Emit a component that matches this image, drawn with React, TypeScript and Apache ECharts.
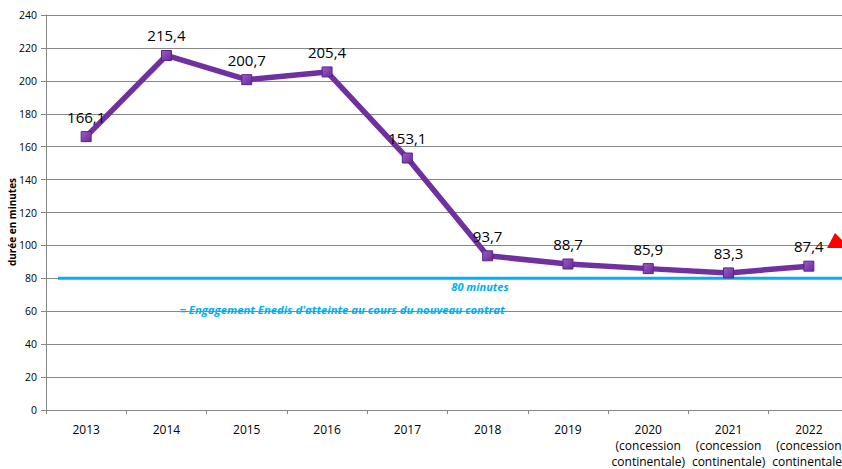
import React, { useEffect, useRef } from "react";
import * as echarts from "echarts";

const categories = [
  "2013",
  "2014",
  "2015",
  "2016",
  "2017",
  "2018",
  "2019",
  "2020\n(concession\ncontinentale)",
  "2021\n(concession\ncontinentale)",
  "2022\n(concession\ncontinentale)",
];
const durations = [166.1, 215.4, 200.7, 205.4, 153.1, 93.7, 88.7, 85.9, 83.3, 87.4];
const targetValue = 80;
const targetLabel = "80 minutes";
const targetNote = "= Engagement Enedis d'atteinte au cours du nouveau contrat";
const yAxisName = "durée en minutes";

const FONT = "'Open Sans', 'Liberation Sans', sans-serif";

export default function App() {
  const ref = useRef<HTMLDivElement>(null);
  useEffect(() => {
    if (!ref.current) return;
    const chart = echarts.init(ref.current, null, { renderer: "svg" });
    chart.setOption({
      animation: false,
      textStyle: { fontFamily: FONT },
      grid: {
        left: 46,
        right: -7,
        top: 15,
        bottom: 59,
        containLabel: false,
        outerBoundsMode: "none",
      },
      xAxis: {
        type: "category",
        data: categories,
        boundaryGap: true,
        axisLine: { show: true, lineStyle: { color: "#868686" } },
        axisTick: { show: true, length: 4, lineStyle: { color: "#868686" } },
        axisLabel: {
          color: "#000",
          fontSize: 12,
          lineHeight: 16,
          margin: 11,
          interval: 0,
          fontFamily: FONT,
        },
      },
      yAxis: {
        type: "value",
        min: 0,
        max: 240,
        interval: 20,
        axisLine: { show: true, lineStyle: { color: "#868686" } },
        axisTick: { show: true, length: 5, lineStyle: { color: "#868686" } },
        axisLabel: { color: "#000", fontSize: 10.5, margin: 9, fontFamily: FONT },
        splitLine: { show: true, lineStyle: { color: "#868686", width: 1 } },
      },
      series: [
        {
          type: "line",
          data: durations,
          lineStyle: { color: "#7030A0", width: 5.5 },
          symbol: "rect",
          symbolSize: 10,
          itemStyle: {
            color: new echarts.graphic.LinearGradient(0, 0, 1, 1, [
              { offset: 0, color: "#9a5cc8" },
              { offset: 1, color: "#6a2a98" },
            ]),
            borderColor: "#5a2386",
            borderWidth: 1,
          },
          label: {
            show: true,
            position: "top",
            distance: 7,
            color: "#000",
            fontSize: 15,
            fontFamily: FONT,
            formatter: (p: any) => String(p.value.toFixed(1)).replace(".", ","),
          },
          z: 5,
        },
      ],
    });
    const yPix = chart.convertToPixel({ yAxisIndex: 0 }, targetValue) as number;
    chart.setOption({
      graphic: [
        {
          type: "text",
          x: 12,
          y: 222,
          rotation: Math.PI / 2,
          style: {
            text: yAxisName,
            fill: "#000",
            font: `bold 10px ${FONT}`,
            textAlign: "center",
            textVerticalAlign: "middle",
          },
        },
        {
          type: "line",
          shape: { x1: 58, y1: yPix, x2: 842, y2: yPix },
          style: { stroke: "#00B0F0", lineWidth: 3 },
          z: 3,
        },
        {
          type: "text",
          x: 480,
          y: yPix + 8,
          style: {
            text: targetLabel,
            fill: "#00B0F0",
            font: `italic bold 11px ${FONT}`,
            textAlign: "center",
            textVerticalAlign: "middle",
          },
        },
        {
          type: "text",
          x: 342,
          y: yPix + 31,
          style: {
            text: targetNote,
            fill: "#00B0F0",
            font: `italic bold 11.3px ${FONT}`,
            textAlign: "center",
            textVerticalAlign: "middle",
          },
        },
        {
          type: "polygon",
          shape: { points: [[827, 248], [835, 233], [842, 240], [842, 248]] },
          style: { fill: "#FF0000" },
        },
      ],
    });
    return () => chart.dispose();
  }, []);
  return (
    <div
      ref={ref}
      style={{ position: "absolute", left: 0, top: 0, width: 842, height: 469 }}
    />
  );
}
